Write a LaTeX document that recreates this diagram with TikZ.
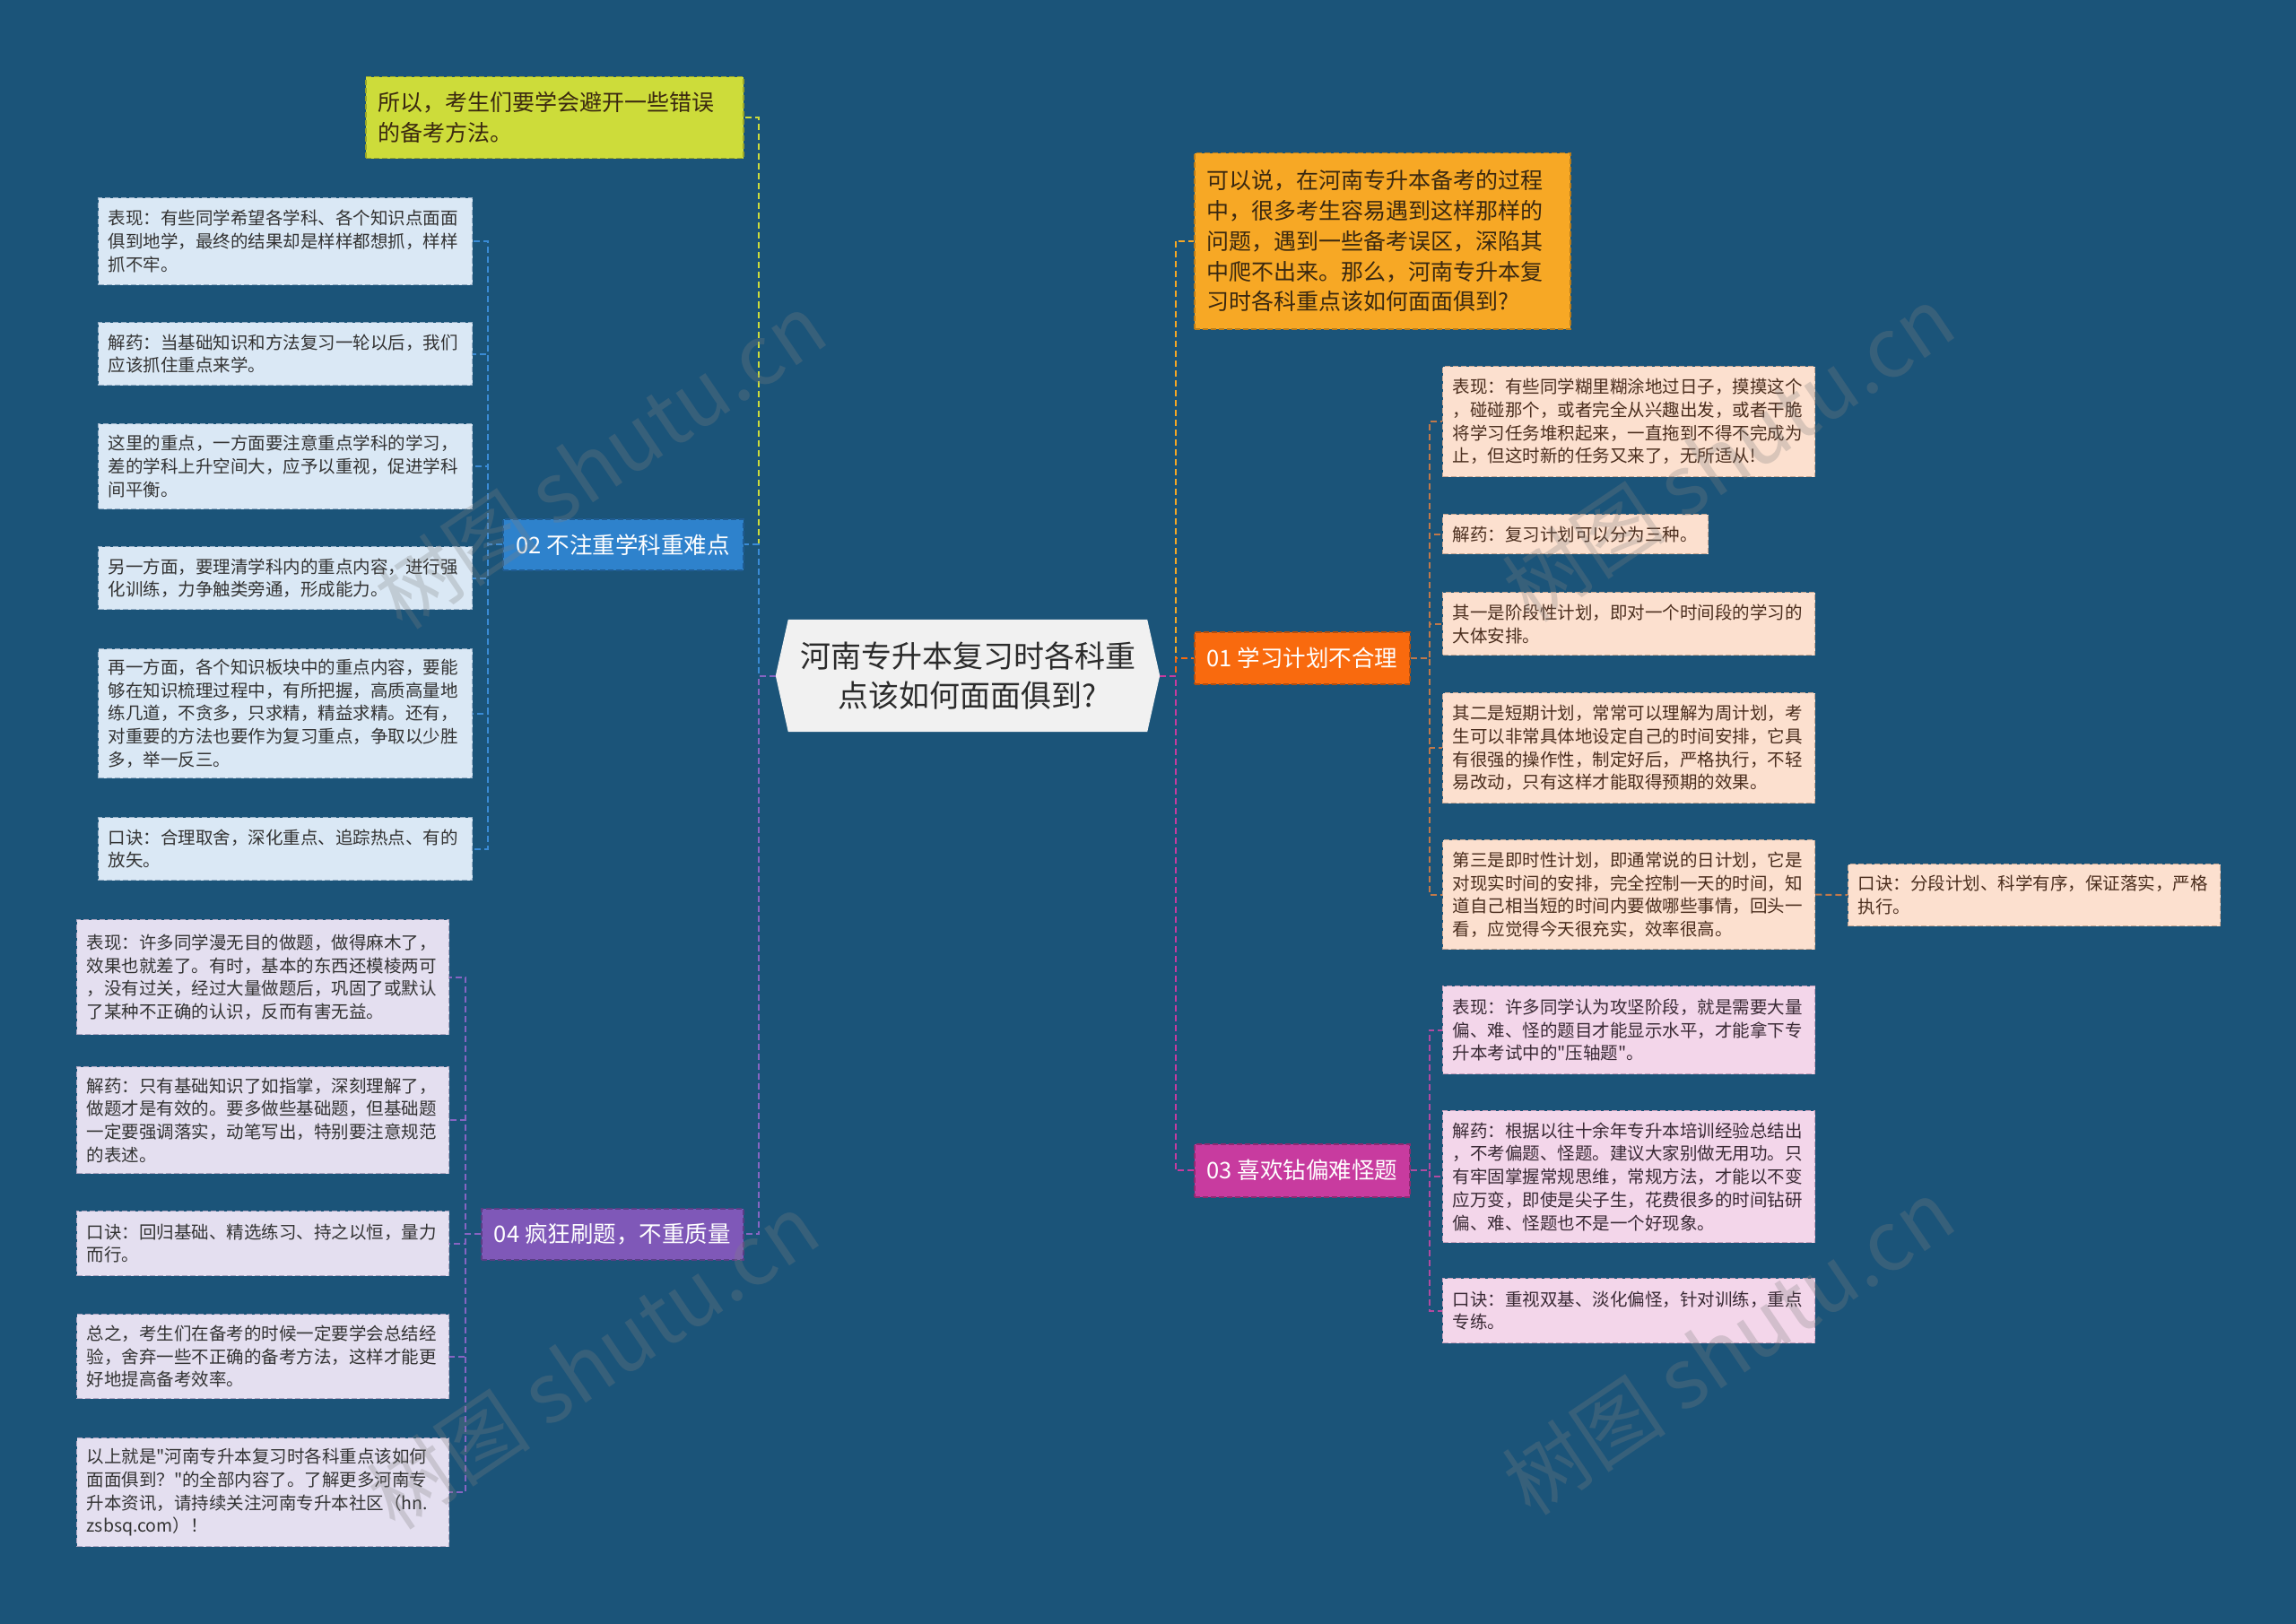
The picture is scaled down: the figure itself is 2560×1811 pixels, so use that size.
\documentclass[tikz,border=0pt]{standalone}
\usepackage{fontspec}
\setmainfont{Noto Sans CJK SC}[Ligatures=TeXOff]
\usetikzlibrary{backgrounds}
\definecolor{bg}{HTML}{1B5479}
\definecolor{rootfill}{HTML}{F1F1F1}
\definecolor{roottext}{HTML}{2B2B2B}
\definecolor{yfill}{HTML}{CDDC3A}
\definecolor{ydraw}{HTML}{98A52A}
\definecolor{ofill}{HTML}{F7A825}
\definecolor{odraw}{HTML}{B97C1A}
\definecolor{otext}{HTML}{3A2810}
\definecolor{f01}{HTML}{F96A0E}
\definecolor{d01}{HTML}{B24F10}
\definecolor{k01}{HTML}{FCE0CF}
\definecolor{kd01}{HTML}{C9A894}
\definecolor{kt01}{HTML}{4B2E1E}
\definecolor{l01}{HTML}{C0784A}
\definecolor{f02}{HTML}{2E82CC}
\definecolor{d02}{HTML}{1F5C93}
\definecolor{k02}{HTML}{DAE8F5}
\definecolor{kd02}{HTML}{97AFC6}
\definecolor{l02}{HTML}{3A8BD5}
\definecolor{f03}{HTML}{C83B9F}
\definecolor{d03}{HTML}{8E2A71}
\definecolor{k03}{HTML}{F3D6EA}
\definecolor{kd03}{HTML}{C7A0BC}
\definecolor{kt03}{HTML}{3A2A35}
\definecolor{l03}{HTML}{B24AA0}
\definecolor{f04}{HTML}{7F58B8}
\definecolor{d04}{HTML}{5A3E85}
\definecolor{k04}{HTML}{E4DFF0}
\definecolor{kd04}{HTML}{ABA3BF}
\definecolor{l04}{HTML}{8764C2}
\definecolor{ltext}{HTML}{333333}
\tikzset{
  conn/.style={line width=2pt, dash pattern=on 7pt off 4pt},
  cbox/.style={anchor=north west, line width=1.3pt, dash pattern=on 6pt off 3pt,
    inner xsep=11pt, inner ysep=0pt, text width=393pt, align=left,
    font=\fontsize{19.5}{25.7}\selectfont},
  kid01/.style={cbox, fill=k01, draw=kd01, text=kt01},
  kid02/.style={cbox, fill=k02, draw=kd02, text=ltext, text width=395pt},
  kid03/.style={cbox, fill=k03, draw=kd03, text=kt03},
  kid04/.style={cbox, fill=k04, draw=kd04, text=ltext},
  lvl/.style={anchor=north west, line width=1.5pt, dash pattern=on 6pt off 3pt,
    inner sep=0pt, text=white, font=\fontsize{25.5}{30}\selectfont},
  bigbox/.style={anchor=north west, line width=1.5pt, dash pattern=on 6pt off 3pt,
    inner xsep=14pt, inner ysep=0pt, align=left,
    font=\fontsize{25}{33.8}\selectfont},
  rootnode/.style={inner sep=0pt, minimum width=428pt, minimum height=125pt,
    align=center, text=roottext, font=\fontsize{34}{44}\selectfont},
  wm/.style={text=gray, opacity=0.28, font=\fontsize{92}{100}\selectfont, inner sep=0pt}
}
\begin{document}
\begin{tikzpicture}[x=1pt,y=-1pt]
\useasboundingbox (0,0) rectangle (2560,1811);
\begin{scope}[on background layer]
\fill[bg] (0,0) rectangle (2560,1811);
\end{scope}

% root
\node[rootnode] (root) at (1079,753.5) {河南专升本复习时各科重\\点该如何面面俱到?};
\begin{scope}[on background layer]
\fill[rootfill] ([xshift=14pt]root.north west) -- ([xshift=-14pt]root.north east)
  -- (root.east) -- ([xshift=-14pt]root.south east)
  -- ([xshift=14pt]root.south west) -- (root.west) -- cycle;
\end{scope}

% first level
\node[bigbox, fill=yfill, draw=ydraw, text=otext, text width=393pt, minimum height=91pt] (ny) at (407,85)
  {所以，考生们要学会避开一些错误\\的备考方法。};
\node[bigbox, fill=ofill, draw=odraw, text=otext, text width=391pt, minimum height=196pt] (no) at (1331,170)
  {可以说，在河南专升本备考的过程\\中，很多考生容易遇到这样那样的\\问题，遇到一些备考误区，深陷其\\中爬不出来。那么，河南专升本复\\习时各科重点该如何面面俱到?};
\node[lvl, fill=f01, draw=d01, minimum width=240pt, minimum height=58pt] (n01) at (1331,704) {01 学习计划不合理};
\node[lvl, fill=f03, draw=d03, minimum width=240pt, minimum height=59pt] (n03) at (1331,1275) {03 喜欢钻偏难怪题};
\node[lvl, fill=f02, draw=d02, minimum width=268pt, minimum height=57pt] (n02) at (560,578) {02 不注重学科重难点};
\node[lvl, fill=f04, draw=d04, minimum width=292pt, minimum height=57pt] (n04) at (536,1347) {04 疯狂刷题，不重质量};

% 02 children
\node[kid02, minimum height=97pt] (a1) at (109,220) {表现：有些同学希望各学科、各个知识点面面\\俱到地学，最终的结果却是样样都想抓，样样\\抓不牢。};
\node[kid02, minimum height=70pt] (a2) at (109,359) {解药：当基础知识和方法复习一轮以后，我们\\应该抓住重点来学。};
\node[kid02, minimum height=95pt] (a3) at (109,472) {这里的重点，一方面要注意重点学科的学习，\\差的学科上升空间大，应予以重视，促进学科\\间平衡。};
\node[kid02, minimum height=70pt] (a4) at (109,609) {另一方面，要理清学科内的重点内容，进行强\\化训练，力争触类旁通，形成能力。};
\node[kid02, minimum height=144pt] (a5) at (109,723) {再一方面，各个知识板块中的重点内容，要能\\够在知识梳理过程中，有所把握，高质高量地\\练几道，不贪多，只求精，精益求精。还有，\\对重要的方法也要作为复习重点，争取以少胜\\多，举一反三。};
\node[kid02, minimum height=70pt] (a6) at (109,911) {口诀：合理取舍，深化重点、追踪热点、有的\\放矢。};

% 04 children
\node[kid04, minimum height=128pt] (d1) at (85,1025) {表现：许多同学漫无目的做题，做得麻木了，\\效果也就差了。有时，基本的东西还模棱两可\\，没有过关，经过大量做题后，巩固了或默认\\了某种不正确的认识，反而有害无益。};
\node[kid04, minimum height=119pt] (d2) at (85,1189) {解药：只有基础知识了如指掌，深刻理解了，\\做题才是有效的。要多做些基础题，但基础题\\一定要强调落实，动笔写出，特别要注意规范\\的表述。};
\node[kid04, minimum height=72pt] (d3) at (85,1350) {口诀：回归基础、精选练习、持之以恒，量力\\而行。};
\node[kid04, minimum height=94pt] (d4) at (85,1465) {总之，考生们在备考的时候一定要学会总结经\\验，舍弃一些不正确的备考方法，这样才能更\\好地提高备考效率。};
\node[kid04, minimum height=121pt] (d5) at (85,1603) {以上就是"河南专升本复习时各科重点该如何\\面面俱到？"的全部内容了。了解更多河南专\\升本资讯，请持续关注河南专升本社区（hn.\\zsbsq.com）！};

% 01 children
\node[kid01, minimum height=123pt] (b1) at (1608,408) {表现：有些同学糊里糊涂地过日子，摸摸这个\\，碰碰那个，或者完全从兴趣出发，或者干脆\\将学习任务堆积起来，一直拖到不得不完成为\\止，但这时新的任务又来了，无所适从!};
\node[kid01, minimum height=44pt, text width=274pt] (b2) at (1608,573) {解药：复习计划可以分为三种。};
\node[kid01, minimum height=70pt] (b3) at (1608,660) {其一是阶段性计划，即对一个时间段的学习的\\大体安排。};
\node[kid01, minimum height=123pt] (b4) at (1608,772) {其二是短期计划，常常可以理解为周计划，考\\生可以非常具体地设定自己的时间安排，它具\\有很强的操作性，制定好后，严格执行，不轻\\易改动，只有这样才能取得预期的效果。};
\node[kid01, minimum height=122pt] (b5) at (1608,936) {第三是即时性计划，即通常说的日计划，它是\\对现实时间的安排，完全控制一天的时间，知\\道自己相当短的时间内要做哪些事情，回头一\\看，应觉得今天很充实，效率很高。};
\node[kid01, minimum height=69pt] (b6) at (2060,963) {口诀：分段计划、科学有序，保证落实，严格\\执行。};

% 03 children
\node[kid03, minimum height=98pt] (c1) at (1608,1099) {表现：许多同学认为攻坚阶段，就是需要大量\\偏、难、怪的题目才能显示水平，才能拿下专\\升本考试中的"压轴题"。};
\node[kid03, minimum height=147pt] (c2) at (1608,1238) {解药：根据以往十余年专升本培训经验总结出\\，不考偏题、怪题。建议大家别做无用功。只\\有牢固掌握常规思维，常规方法，才能以不变\\应万变，即使是尖子生，花费很多的时间钻研\\偏、难、怪题也不是一个好现象。};
\node[kid03, minimum height=72pt] (c3) at (1608,1425) {口诀：重视双基、淡化偏怪，针对训练，重点\\专练。};

% connectors: root to first level
\draw[conn, yfill] (root.west) -- ++(-19,0) |- (ny.east);
\draw[conn, l02] (root.west) -- ++(-19,0) |- (n02.east);
\draw[conn, l04] (root.west) -- ++(-19,0) |- (n04.east);
\draw[conn, ofill] (root.east) -- ++(18,0) |- (no.west);
\draw[conn, f01] (root.east) -- ++(18,0) |- (n01.west);
\draw[conn, f03] (root.east) -- ++(18,0) |- (n03.west);

% 02 children
\foreach \k in {a1,a2,a3,a4,a5,a6}
  \draw[conn, l02] (n02.west) -- ++(-16,0) |- (\k.east);
% 04 children
\foreach \k in {d1,d2,d3,d4,d5}
  \draw[conn, l04] (n04.west) -- ++(-17,0) |- (\k.east);
% 01 children
\foreach \k in {b1,b2,b3,b4,b5}
  \draw[conn, l01] (n01.east) -- ++(21,0) |- (\k.west);
\draw[conn, l01] (b5.east) -- (b6.west);
% 03 children
\foreach \k in {c1,c2,c3}
  \draw[conn, l03] (n03.east) -- ++(21,0) |- (\k.west);

% watermarks
\node[wm, rotate=34] (w1) at (669,514) {树图 shutu.cn};
\node[wm, rotate=34] (w2) at (1927,506) {树图 shutu.cn};
\node[wm, rotate=34] (w3) at (661,1518) {树图 shutu.cn};
\node[wm, rotate=34] (w4) at (1927,1502) {树图 shutu.cn};
\end{tikzpicture}
\end{document}
